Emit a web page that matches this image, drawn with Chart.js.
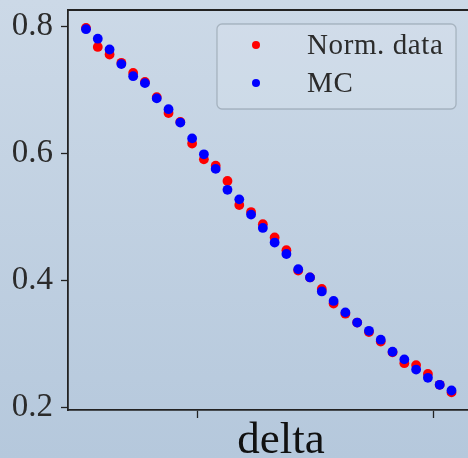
<!DOCTYPE html>
<html>
<head>
<meta charset="utf-8">
<script src="https://cdn.jsdelivr.net/npm/chart.js@4.4.1/dist/chart.umd.min.js"></script>
<style>
	html, body {
		margin: 0;
		padding: 0;
		width: 468px;
		height: 458px;
		overflow: hidden;
		background: linear-gradient(to bottom, #ccd9e7, #b5c8dc);
	}
	#wrap {
		width: 468px;
		height: 458px;
		overflow: hidden;
	}
</style>
</head>
<body>
<div id="wrap"><canvas id="chart" width="494" height="458"></canvas></div>
<script>
	// bin centres of delta
	const deltas = [
		0.025, 0.075, 0.125, 0.175, 0.225, 0.275, 0.325, 0.375,
		0.425, 0.475, 0.525, 0.575, 0.625, 0.675, 0.725, 0.775,
		0.825, 0.875, 0.925, 0.975, 1.025, 1.075, 1.125, 1.175,
		1.225, 1.275, 1.325, 1.375, 1.425, 1.475, 1.525, 1.575
	];

	// normalised data
	const normData = [
		0.797, 0.767, 0.755, 0.742, 0.726, 0.712, 0.688, 0.663,
		0.649, 0.615, 0.590, 0.580, 0.556, 0.518, 0.507, 0.488,
		0.467, 0.447, 0.415, 0.404, 0.386, 0.363, 0.347, 0.333,
		0.318, 0.303, 0.286, 0.269, 0.266, 0.252, 0.235, 0.223
	];

	// Monte Carlo
	const mcData = [
		0.795, 0.780, 0.763, 0.740, 0.721, 0.710, 0.686, 0.669,
		0.648, 0.623, 0.598, 0.575, 0.542, 0.527, 0.503, 0.482,
		0.459, 0.441, 0.417, 0.404, 0.382, 0.367, 0.349, 0.333,
		0.320, 0.306, 0.287, 0.275, 0.259, 0.246, 0.235, 0.226
	];

	const yTicks = [0.2, 0.4, 0.6, 0.8];
	const xTicks = [0.5, 1.5];

	const serif = "'Liberation Serif', 'DejaVu Serif', serif";
	const ink = '#222222';
	const textInk = '#2b2b2b';

	function toPoints(ys) {
		return deltas.map(function(x, i) {
			return { x: x, y: ys[i] };
		});
	}

	// top spine + boxed legend in the upper right corner
	const framePlugin = {
		id: 'frame',
		afterDraw: function(chart) {
			const ctx = chart.ctx;
			const area = chart.chartArea;
			ctx.save();
			ctx.strokeStyle = ink;
			ctx.lineWidth = 1.8;
			ctx.beginPath();
			ctx.moveTo(area.left, area.top);
			ctx.lineTo(area.right, area.top);
			ctx.stroke();

			// legend box
			const bx = 217, by = 24, bw = 239, bh = 85;
			ctx.beginPath();
			ctx.roundRect(bx, by, bw, bh, 5);
			ctx.fillStyle = 'rgba(255, 255, 255, 0.12)';
			ctx.fill();
			ctx.strokeStyle = 'rgba(120, 132, 145, 0.45)';
			ctx.lineWidth = 1.3;
			ctx.stroke();

			const rows = [chart.data.datasets[0], chart.data.datasets[1]];
			ctx.font = '29px ' + serif;
			ctx.letterSpacing = '0.6px';
			ctx.textBaseline = 'middle';
			ctx.textAlign = 'left';
			rows.forEach(function(ds, i) {
				const cy = 45 + i * 38;
				ctx.fillStyle = ds.backgroundColor;
				ctx.beginPath();
				ctx.arc(256, cy, 4, 0, Math.PI * 2);
				ctx.fill();
				ctx.fillStyle = textInk;
				ctx.fillText(ds.label, 307, cy + 1);
			});
			ctx.restore();
		}
	};

	const ctx = document.getElementById('chart').getContext('2d');

	new Chart(ctx, {
		type: 'scatter',
		data: {
			datasets: [
				{
					label: 'Norm. data',
					data: toPoints(normData),
					backgroundColor: '#ff0000',
					borderWidth: 0,
					pointRadius: 4.9,
					order: 1
				},
				{
					label: 'MC',
					data: toPoints(mcData),
					backgroundColor: '#0000ff',
					borderWidth: 0,
					pointRadius: 4.9,
					order: 0
				}
			]
		},
		options: {
			responsive: false,
			animation: false,
			devicePixelRatio: 1,
			layout: {
				autoPadding: false,
				padding: { top: 10, left: 0, right: 0, bottom: 0 }
			},
			plugins: {
				legend: { display: false },
				tooltip: { enabled: false }
			},
			scales: {
				x: {
					type: 'linear',
					min: -0.0513,
					max: 1.7553,
					afterBuildTicks: function(scale) {
						scale.ticks = xTicks.map(function(v) { return { value: v }; });
					},
					afterFit: function(scale) {
						scale.height = 48;
						scale.paddingLeft = 0;
						scale.paddingRight = 0;
					},
					ticks: { display: false },
					grid: {
						drawOnChartArea: false,
						drawTicks: true,
						tickLength: 8,
						tickWidth: 1.3,
						tickColor: ink
					},
					border: { display: true, color: ink, width: 1.8 },
					title: {
						display: true,
						text: 'delta',
						color: '#111111',
						font: { family: serif, size: 45, lineHeight: 0.6 },
						padding: { top: 0, bottom: 3 }
					}
				},
				y: {
					type: 'linear',
					min: 0.1953,
					max: 0.8252,
					afterBuildTicks: function(scale) {
						scale.ticks = yTicks.map(function(v) { return { value: v }; });
					},
					afterFit: function(scale) {
						scale.width = 68;
						scale.paddingTop = 0;
						scale.paddingBottom = 0;
					},
					ticks: {
						color: textInk,
						padding: 8,
						font: { family: serif, size: 33 },
						callback: function(v) { return v.toFixed(1); }
					},
					grid: {
						drawOnChartArea: false,
						drawTicks: true,
						tickLength: 7,
						tickWidth: 1.3,
						tickColor: ink
					},
					border: { display: true, color: ink, width: 1.8 }
				}
			}
		},
		plugins: [framePlugin]
	});
</script>
</body>
</html>
